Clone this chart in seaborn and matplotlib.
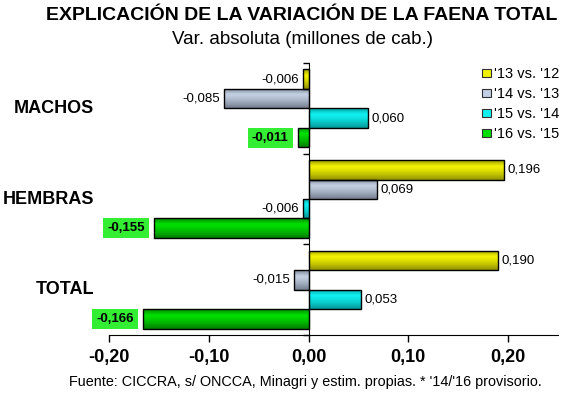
import numpy as np
import pandas as pd
import matplotlib
matplotlib.use("Agg")
import matplotlib.pyplot as plt
import matplotlib.transforms as mtransforms
from matplotlib.patches import Patch
from matplotlib.colors import to_rgb
import seaborn as sns

# ---- data ----
categories = ["MACHOS", "HEMBRAS", "TOTAL"]
series = ["'13 vs. '12", "'14 vs. '13", "'15 vs. '14", "'16 vs. '15"]
v13_12 = [-0.006, 0.196, 0.190]
v14_13 = [-0.085, 0.069, -0.015]
v15_14 = [0.060, -0.006, 0.053]
v16_15 = [-0.011, -0.155, -0.166]
xticks = [-0.20, -0.10, 0.00, 0.10, 0.20]

title = "EXPLICACIÓN DE LA VARIACIÓN DE LA FAENA TOTAL"
subtitle = "Var. absoluta (millones de cab.)"
footnote = "Fuente: CICCRA, s/ ONCCA, Minagri y estim. propias. * '14/'16 provisorio."

bright = ["#f2f200", "#c3cfe2", "#10f0f0", "#00e000"]
dark = ["#6e6e00", "#566070", "#007878", "#005a00"]

rows = []
for s, vals in zip(series, [v13_12, v14_13, v15_14, v16_15]):
    for c, v in zip(categories, vals):
        rows.append({"cat": c, "serie": s, "val": v})
df = pd.DataFrame(rows)

sns.set_style("white")
plt.rcParams["font.family"] = ["Liberation Sans", "DejaVu Sans"]
plt.rcParams["text.color"] = "black"
plt.rcParams["axes.labelcolor"] = "black"
plt.rcParams["xtick.color"] = "black"
plt.rcParams["ytick.color"] = "black"

W, H = 568, 398
fig = plt.figure(figsize=(W / 100, H / 100), dpi=100)
ax = fig.add_axes([109 / W, 1 - 335 / H, 449 / W, 272 / H])

sns.barplot(data=df, y="cat", x="val", hue="serie", order=categories,
            hue_order=series, palette=bright, orient="h", width=0.86,
            edgecolor="black", linewidth=1, saturation=1, legend=False, ax=ax)

# gradient shading of bars
t = np.linspace(0, 1, 64)
wgt = np.where(t < 0.3, 0.35 + 0.65 * (t / 0.3), 1 - 0.75 * ((t - 0.3) / 0.7) ** 1.4)
for cont, b, d in zip(ax.containers, bright, dark):
    cb, cd = np.array(to_rgb(b)), np.array(to_rgb(d))
    grad = (cd[None, :] + (cb - cd)[None, :] * wgt[:, None])[:, None, :]
    for bar in cont:
        x0, w = bar.get_x(), bar.get_width()
        y0, h = bar.get_y(), bar.get_height()
        im = ax.imshow(grad, extent=(x0, x0 + w, y0 + h, y0), origin="upper",
                       aspect="auto", interpolation="bilinear",
                       zorder=bar.get_zorder() - 0.01)
        im.set_clip_path(bar)
        bar.set_facecolor("none")

ax.set_xlim(-0.20, 0.25)
ax.set_ylim(2.5, -0.5)

# value labels
for k, (cont, s) in enumerate(zip(ax.containers, series)):
    for bar in cont:
        v = bar.get_width()
        yc = bar.get_y() + bar.get_height() / 2
        txt = f"{v:.3f}".replace(".", ",")
        if k == 3:
            ax.annotate(txt, (v, yc), xytext=(-6.5 if v < 0 else 6.5, 0),
                        textcoords="offset points", ha="right" if v < 0 else "left",
                        va="center", fontsize=9.5, fontweight="bold",
                        bbox=dict(boxstyle="square,pad=0.3", fc="#33ee33", ec="none"))
        else:
            ax.annotate(txt, (v, yc), xytext=(-2.5 if v < 0 else 2.5, 0),
                        textcoords="offset points", ha="right" if v < 0 else "left",
                        va="center", fontsize=9.5)

# axes styling
for sp in ["top", "right"]:
    ax.spines[sp].set_visible(False)
ax.spines["left"].set_position(("data", 0))
ax.spines["left"].set_color("black")
ax.spines["bottom"].set_color("black")
ax.set_yticks([-0.5, 0.5, 1.5, 2.5])
ax.set_yticklabels([])
ax.set_xticks(xticks)
ax.set_xticklabels([f"{x:.2f}".replace(".", ",") for x in xticks],
                   fontsize=13, fontweight="bold")
ax.tick_params(axis="y", left=True, length=4, width=1, direction="out", color="black")
ax.tick_params(axis="x", bottom=True, length=5, width=1, direction="out", color="black", pad=5)
ax.set_xlabel("")
ax.set_ylabel("")

trans = mtransforms.blended_transform_factory(fig.transFigure, ax.transData)
for i, c in enumerate(categories):
    ax.text(94 / W, i, c, transform=trans, ha="right", va="center",
            fontsize=13, fontweight="bold")

handles = [Patch(facecolor=b, edgecolor="#303030", linewidth=0.8) for b in bright]
ax.legend(handles, series, loc="upper left", bbox_to_anchor=(482 / W, 1 - 67 / H),
          bbox_transform=fig.transFigure, frameon=False, fontsize=10.5,
          handlelength=0.6, handleheight=0.5, handletextpad=0.25,
          labelspacing=0.42, borderpad=0, borderaxespad=0)

fig.text(302 / W, 1 - 16 / H, title, ha="center", va="center", fontsize=14, fontweight="bold")
fig.text(303 / W, 1 - 39 / H, subtitle, ha="center", va="center", fontsize=13.5)
fig.text(305 / W, 1 - 382 / H, footnote, ha="center", va="center", fontsize=10.4)

fig.savefig("out.png", dpi=100)
